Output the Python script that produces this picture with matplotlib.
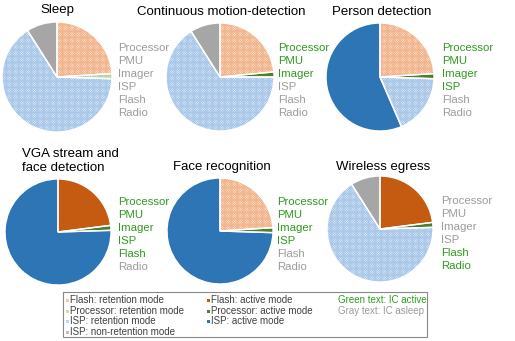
import matplotlib.pyplot as plt

plt.rcParams['font.family'] = ['Liberation Sans', 'DejaVu Sans']
plt.rcParams['hatch.linewidth'] = 0.6

W, H = 515, 341

## Data ##
titles = ['Sleep', 'Continuous motion-detection', 'Person detection',
          'VGA stream and\nface detection', 'Face recognition', 'Wireless egress']
# slice shares (%) clockwise from 12 o'clock: flash, processor, isp, isp non-retention
sleep_vals = [24, 1.5, 65.5, 9]
motion_vals = [23.5, 1.5, 66, 9]
person_vals = [24, 1.5, 18, 56.5]
vga_vals = [23, 1.5, 75.5]
face_vals = [24, 1.5, 74.5]
egress_vals = [23, 1.5, 66.5, 9]

sleep_modes = ['flash_ret', 'proc_ret', 'isp_ret', 'isp_non']
motion_modes = ['flash_ret', 'proc_act', 'isp_ret', 'isp_non']
person_modes = ['flash_ret', 'proc_act', 'isp_ret', 'isp_act']
vga_modes = ['flash_act', 'proc_act', 'isp_act']
face_modes = ['flash_ret', 'proc_act', 'isp_act']
egress_modes = ['flash_act', 'proc_act', 'isp_ret', 'isp_non']

ic_names = ['Processor', 'PMU', 'Imager', 'ISP', 'Flash', 'Radio']
# 1 = IC active (green), 0 = asleep (gray)
sleep_on = [0, 0, 0, 0, 0, 0]
motion_on = [1, 1, 1, 0, 0, 0]
person_on = [1, 1, 1, 1, 0, 0]
vga_on = [1, 1, 1, 1, 1, 0]
face_on = [1, 1, 1, 1, 0, 0]
egress_on = [0, 0, 0, 0, 1, 1]

legend_items = [('Flash: retention mode', 'flash_ret'),
                ('Processor: retention mode', 'proc_ret'),
                ('ISP: retention mode', 'isp_ret'),
                ('ISP: non-retention mode', 'isp_non'),
                ('Flash: active mode', 'flash_act'),
                ('Processor: active mode', 'proc_act'),
                ('ISP: active mode', 'isp_act')]

# style: (face, hatch colour or None)
styles = {
    'flash_ret': ('#fdf3ec', '#f2b48c'),
    'flash_act': ('#c55a11', None),
    'proc_ret': ('#f1f7ed', '#b0d29e'),
    'proc_act': ('#4a7f2c', None),
    'isp_ret': ('#f0f5fb', '#a9c7e8'),
    'isp_act': ('#2e75b6', None),
    'isp_non': ('#a6a6a6', None),
}
legend_sq = {'flash_ret': '#f4c7a9', 'proc_ret': '#c5e0b4', 'isp_ret': '#bdd7ee',
             'isp_non': '#bfbfbf', 'flash_act': '#c55a11', 'proc_act': '#4a7f2c',
             'isp_act': '#2e75b6'}
green = '#2e9a1e'
gray = '#9c9c9c'

# pie centres / radius / text positions in pixels
centres = [(57, 77), (220, 77), (380, 77), (58, 232), (220, 231), (380, 229)]
radius = [55, 54, 54, 53, 53, 53]
title_pos = [(57, 10, 'center'), (221, 12, 'center'), (382, 12, 'center'),
             (22, 161, 'left'), (222, 167, 'center'), (383, 167, 'center')]
label_x = [118, 278, 442, 118, 277, 441]
label_y0 = [48, 48, 48, 202, 202, 201]

all_vals = [sleep_vals, motion_vals, person_vals, vga_vals, face_vals, egress_vals]
all_modes = [sleep_modes, motion_modes, person_modes, vga_modes, face_modes, egress_modes]
all_on = [sleep_on, motion_on, person_on, vga_on, face_on, egress_on]

fig = plt.figure(figsize=(W / 100, H / 100), dpi=100)

for i in range(6):
    cx, cy = centres[i]
    r = radius[i]
    ax = fig.add_axes([(cx - r) / W, 1 - (cy + r) / H, 2 * r / W, 2 * r / H])
    faces = [styles[m][0] for m in all_modes[i]]
    wedges, _ = ax.pie(all_vals[i], colors=faces, startangle=90, counterclock=False,
                       wedgeprops=dict(linewidth=0))
    for w, m in zip(wedges, all_modes[i]):
        hc = styles[m][1]
        if hc:
            w.set_hatch('x' * 14)
            w.set_edgecolor(hc)
            w.set_linewidth(0)
    ax.pie(all_vals[i], startangle=90, counterclock=False,
           wedgeprops=dict(fill=False, edgecolor='white', linewidth=1))
    ax.set_xlim(-1, 1)
    ax.set_ylim(-1, 1)
    ax.set_aspect('equal')
    ax.axis('off')

    tx, ty, ha = title_pos[i]
    fig.text(tx / W, 1 - ty / H, titles[i], ha=ha, va='center', fontsize=9.5,
             linespacing=1.15)
    for j, name in enumerate(ic_names):
        fig.text(label_x[i] / W, 1 - (label_y0[i] + 13 * j) / H, name,
                 ha='left', va='center', fontsize=8.2,
                 color=green if all_on[i][j] else gray)

# legend box
box = plt.Rectangle((63 / W, 1 - 337 / H), (427 - 63) / W, (337 - 292) / H,
                    transform=fig.transFigure, fill=False, edgecolor='#888888',
                    linewidth=0.8)
fig.add_artist(box)
col_x = [66, 207]
row_y = [300, 311, 321.5, 332]
for k, (txt, m) in enumerate(legend_items):
    col = 0 if k < 4 else 1
    row = k if k < 4 else k - 4
    x, y = col_x[col], row_y[row]
    fig.add_artist(plt.Rectangle((x / W, 1 - (y + 1.5) / H), 3 / W, 3 / H,
                                 transform=fig.transFigure, color=legend_sq[m],
                                 linewidth=0))
    fig.text((x + 4) / W, 1 - y / H, txt, ha='left', va='center', fontsize=7,
             color='#404040')
fig.text(338 / W, 1 - 300 / H, 'Green text: IC active', ha='left', va='center',
         fontsize=7, color=green)
fig.text(338 / W, 1 - 311 / H, 'Gray text: IC asleep', ha='left', va='center',
         fontsize=7, color=gray)

fig.savefig('out.png', dpi=100)
